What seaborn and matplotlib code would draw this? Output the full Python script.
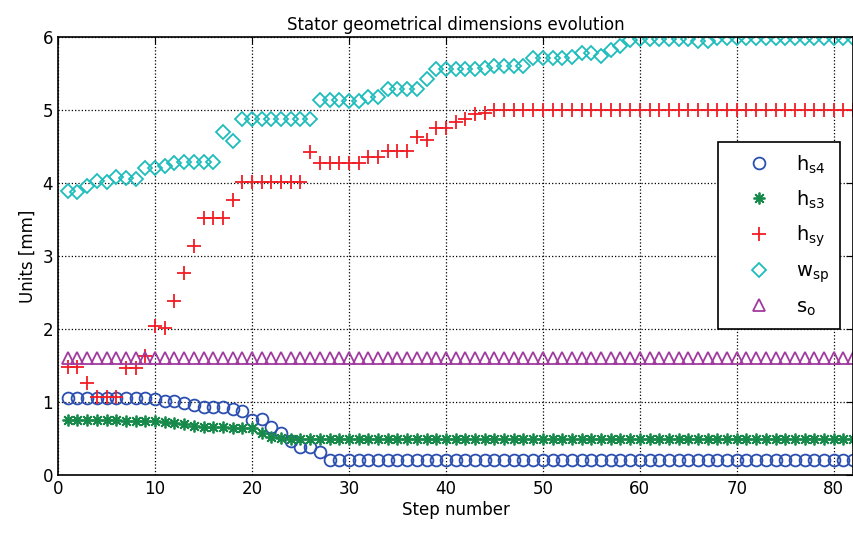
import numpy as np
import pandas as pd
import matplotlib
matplotlib.use("Agg")
import matplotlib.pyplot as plt
import seaborn as sns

# step index
steps = list(range(1, 83))

# h_s4 (blue circles)
h_s4 = ([1.06] * 8 + [1.05, 1.04, 1.02, 1.01, 0.99, 0.96] + [0.93] * 3
        + [0.90, 0.88, 0.76, 0.77, 0.66, 0.57, 0.47, 0.38, 0.38, 0.32] + [0.21] * 55)

# h_s3 (green asterisks)
h_s3 = ([0.76] * 5 + [0.75] + [0.74] * 4 + [0.73, 0.72, 0.70, 0.67] + [0.66] * 3
        + [0.65, 0.64, 0.64, 0.58, 0.52, 0.51] + [0.50] * 59)

# h_sy (red plus)
h_sy = ([1.48, 1.48, 1.26] + [1.07] * 3 + [1.47, 1.47, 1.63, 2.04, 2.01, 2.39, 2.77, 3.14]
        + [3.52] * 3 + [3.77] + [4.02] * 7 + [4.43] + [4.28] * 5 + [4.35] * 2
        + [4.44] * 3 + [4.63, 4.59, 4.75, 4.75, 4.83, 4.88, 4.95, 4.96] + [5.00] * 38)

# w_sp (cyan diamonds)
w_sp = ([3.89, 3.88, 3.96, 4.03, 4.02, 4.08, 4.07, 4.06, 4.20, 4.20, 4.23, 4.27]
        + [4.29] * 4 + [4.70, 4.58] + [4.88] * 8 + [5.13] * 3 + [5.12] * 2
        + [5.18] * 2 + [5.28] * 4 + [5.42] + [5.56] * 5 + [5.58] + [5.60] * 4
        + [5.71] * 4 + [5.73, 5.78, 5.78, 5.74, 5.82, 5.87, 5.96] + [5.97] * 6
        + [5.94] * 2 + [5.99] * 15)

# s_o (purple triangles)
s_o = [1.6] * 82

series = [
    (h_s4, r"$\mathrm{h_{s4}}$", "o", "#2b4fb0", 8.5),
    (h_s3, r"$\mathrm{h_{s3}}$", (8, 2, 0), "#17894a", 8.5),
    (h_sy, r"$\mathrm{h_{sy}}$", "+", "#f21c24", 10.5),
    (w_sp, r"$\mathrm{w_{sp}}$", "D", "#1fbcbc", 7.2),
    (s_o, r"$\mathrm{s_{o}}$", "^", "#a03a9e", 9),
]

sns.set_style("white")
plt.rcParams["font.family"] = ["DejaVu Sans"]
plt.rcParams["mathtext.fontset"] = "dejavusans"
plt.rcParams["text.color"] = "black"
plt.rcParams["axes.labelcolor"] = "black"
plt.rcParams["xtick.color"] = "black"
plt.rcParams["ytick.color"] = "black"

fig = plt.figure(figsize=(8.54, 5.35), dpi=100)
ax = fig.add_axes([0.068, 0.112, 0.931, 0.819])

for vals, lab, mk, col, ms in series:
    df = pd.DataFrame({"step": steps, "val": vals})
    sns.lineplot(data=df, x="step", y="val", ax=ax, marker=mk, linestyle="",
                 markersize=ms, markerfacecolor="none", markeredgecolor=col,
                 markeredgewidth=1.3, color=col, label=lab)

ax.set_xlim(0, 82)
ax.set_ylim(0, 6)
ax.set_xticks(range(0, 81, 10))
ax.set_yticks(range(0, 7))
ax.grid(True, color="black", linestyle=":", linewidth=0.9)
ax.tick_params(direction="in", top=True, right=True, labelsize=12, length=5)
for sp in ax.spines.values():
    sp.set_color("black")
    sp.set_linewidth(1.2)

ax.set_xlabel("Step number", fontsize=12, labelpad=2)
ax.set_ylabel("Units [mm]", fontsize=12, labelpad=4)
ax.set_title("Stator geometrical dimensions evolution", fontsize=12, pad=5)

leg = ax.legend(loc="upper right", bbox_to_anchor=(0.984, 0.761), borderaxespad=0,
                fontsize=14, frameon=True, fancybox=False, edgecolor="black",
                framealpha=1, labelspacing=0.65, handletextpad=0.4, borderpad=0.6,
                handlelength=3.0)
leg.get_frame().set_linewidth(1.2)

fig.savefig("out.png", dpi=100)
